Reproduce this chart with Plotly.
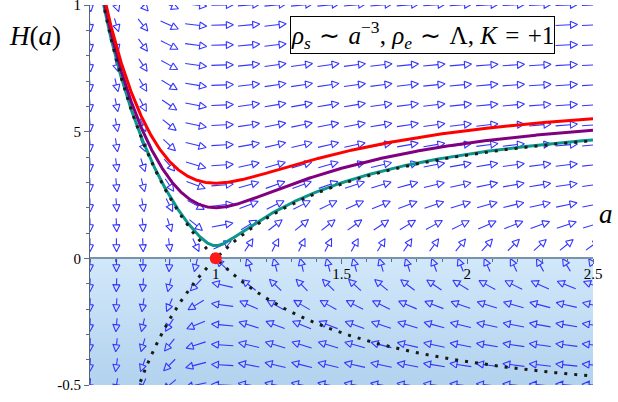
import numpy as np
import plotly.graph_objects as go

# ---- data / model parameters ----
A_RANGE = [0.5, 2.5]
H_RANGE = [-0.5, 1.0]
N_GRID = 20                      # arrow grid 20 x 20
MATTER = 2.0 / 3.0               # rho_s ~ a^-3 coefficient
LAMBDA = 1.0 / 3.0               # rho_e ~ Lambda term
K = 1.0                          # curvature
CRIT_POINT = (1.0, 0.0)
curve_names = ["teal", "purple", "red"]
curve_offsets = [0.0025, 0.04, 0.088]
curve_colors = ["#0b978c", "#800080", "#ff0000"]
x_tickvals = [1, 1.5, 2, 2.5]
x_ticktext = ["1", "1.5", "2", "2.5"]
y_tickvals = [-0.5, 0, 0.5, 1]
y_ticktext = ["-0.5", "0", "5", "1"]

W, H = 618, 402
ML, MR, MT, MB = 90, 25, 5, 17
PW, PH = W - ML - MR, H - MT - MB
sx = PW / (A_RANGE[1] - A_RANGE[0])
sy = PH / (H_RANGE[1] - H_RANGE[0])


def f(a):
    return MATTER / a**3 + LAMBDA - K / a**2


def field(a, h):
    # direction of trajectories in the (a, H) plane
    return h, (a - 1.0) / a**4


fig = go.Figure()

# shaded region H < 0
fig.add_trace(go.Scatter(
    x=[A_RANGE[0], A_RANGE[1], A_RANGE[1], A_RANGE[0], A_RANGE[0]],
    y=[0, 0, H_RANGE[0], H_RANGE[0], 0],
    fill="toself", mode="lines", line=dict(width=0),
    fillgradient=dict(type="vertical", start=H_RANGE[0], stop=0,
                      colorscale=[[0, "rgb(178,210,238)"], [1, "rgb(210,232,250)"]]),
    hoverinfo="skip", showlegend=False))

# direction field arrows
grid_a = np.linspace(A_RANGE[0], A_RANGE[1], N_GRID)
grid_h = np.linspace(H_RANGE[0], H_RANGE[1], N_GRID)
LX, LY = 22.0, 13.5
HEAD_L, HEAD_W = 7.0, 3.5
xs_in, ys_in, xs_edge, ys_edge = [], [], [], []
for i, a in enumerate(grid_a):
    for h in grid_h:
        vx, vy = field(a, h)
        px, py = vx * sx, vy * sy
        n = np.hypot(px, py)
        if n == 0:
            continue
        ux, uy = px / n, py / n
        L = 1.0 / np.hypot(ux / LX, uy / LY)
        tail = (-ux * L / 2, -uy * L / 2)
        tip = (ux * L / 2, uy * L / 2)
        base = (tip[0] - ux * HEAD_L, tip[1] - uy * HEAD_L)
        nx, ny = -uy, ux
        pts = [tail, base, None,
               (base[0] + nx * HEAD_W, base[1] + ny * HEAD_W), tip,
               (base[0] - nx * HEAD_W, base[1] - ny * HEAD_W),
               (base[0] + nx * HEAD_W, base[1] + ny * HEAD_W), None]
        xs, ys = (xs_edge, ys_edge) if i == N_GRID - 1 else (xs_in, ys_in)
        for p in pts:
            if p is None:
                xs.append(None); ys.append(None)
            else:
                xs.append(a + p[0] / sx); ys.append(h + p[1] / sy)

arrow_line = dict(color="rgb(52,52,255)", width=1.1)
fig.add_trace(go.Scatter(x=xs_in, y=ys_in, mode="lines", line=arrow_line,
                         cliponaxis=False, hoverinfo="skip", showlegend=False))
fig.add_trace(go.Scatter(x=xs_edge, y=ys_edge, mode="lines", line=arrow_line,
                         hoverinfo="skip", showlegend=False))

# solution curves
a_fine = np.linspace(A_RANGE[0], A_RANGE[1], 800)
for name, c, col in zip(curve_names, curve_offsets, curve_colors):
    fig.add_trace(go.Scatter(x=a_fine, y=np.sqrt(f(a_fine) + c), mode="lines",
                             line=dict(color=col, width=3), name=name,
                             hoverinfo="skip", showlegend=False))

# separatrices (dotted)
sep = np.sqrt(np.clip(f(a_fine), 0, None))
for sgn in (1, -1):
    fig.add_trace(go.Scatter(x=a_fine, y=sgn * sep, mode="lines",
                             line=dict(color="#1a1a1a", width=3, dash="3px,7px"),
                             hoverinfo="skip", showlegend=False))

# critical point
fig.add_shape(type="circle", xref="x", yref="y", xsizemode="pixel", ysizemode="pixel",
              xanchor=CRIT_POINT[0], yanchor=CRIT_POINT[1], x0=-6, x1=6, y0=-6, y1=6,
              fillcolor="#ff1a1a", line=dict(width=0), layer="above")

serif = "Liberation Serif"
tick_col = "rgb(90,110,130)"
fig.update_layout(
    width=W, height=H, margin=dict(l=ML, r=MR, t=MT, b=MB, autoexpand=False),
    plot_bgcolor="white", paper_bgcolor="white",
    font=dict(family=serif, size=15, color="black"),
    xaxis=dict(range=A_RANGE, anchor="free", position=(0 - H_RANGE[0]) / (H_RANGE[1] - H_RANGE[0]),
               showgrid=False, zeroline=False, showline=True, linecolor="rgb(120,148,172)", linewidth=2,
               ticks="outside", ticklen=5, tickcolor=tick_col, tickwidth=1,
               tickvals=x_tickvals, ticktext=x_ticktext, ticklabelstandoff=-3,
               ticklabeloverflow="allow",
               tickfont=dict(family=serif, size=15, color="black"),
               minor=dict(dtick=0.1, tick0=0.5, ticks="outside", ticklen=3, tickcolor=tick_col)),
    yaxis=dict(range=H_RANGE, showgrid=False, zeroline=False, showline=True,
               linecolor="rgb(90,100,120)", linewidth=1,
               ticks="outside", ticklen=5, tickcolor=tick_col,
               tickvals=y_tickvals, ticktext=y_ticktext, ticklabeloverflow="allow",
               tickfont=dict(family=serif, size=15, color="black"),
               minor=dict(dtick=0.1, tick0=-0.5, ticks="outside", ticklen=3, tickcolor=tick_col)),
)

fig.add_annotation(xref="paper", yref="paper", x=(35 - ML) / PW, y=(H - MB - 36) / PH,
                   xanchor="center", yanchor="middle",
                   text="<i>H</i>(<i>a</i>)", showarrow=False, font=dict(family=serif, size=27))
fig.add_annotation(xref="paper", yref="paper", x=(606 - ML) / PW, y=(H - MB - 214) / PH,
                   xanchor="center", yanchor="middle",
                   text="<i>a</i>", showarrow=False, font=dict(family=serif, size=27))
sp = "\u2004"
fig.add_annotation(xref="paper", yref="paper", x=(422 - ML) / PW, y=(H - MB - 35) / PH,
                   xanchor="center", yanchor="middle",
                   text=(f"<i>ρ</i><sub><i>s</i></sub>{sp}∼{sp}<i>a</i><sup>−3</sup>, "
                         f"<i>ρ</i><sub><i>e</i></sub>{sp}∼{sp}Λ, <i>K</i>{sp}={sp}+1"),
                   showarrow=False, font=dict(family=serif, size=25),
                   bgcolor="white", bordercolor="black", borderwidth=1, borderpad=0)

fig.write_html("out.html", config={"displayModeBar": False},
               post_script="document.body.style.margin='0';")
